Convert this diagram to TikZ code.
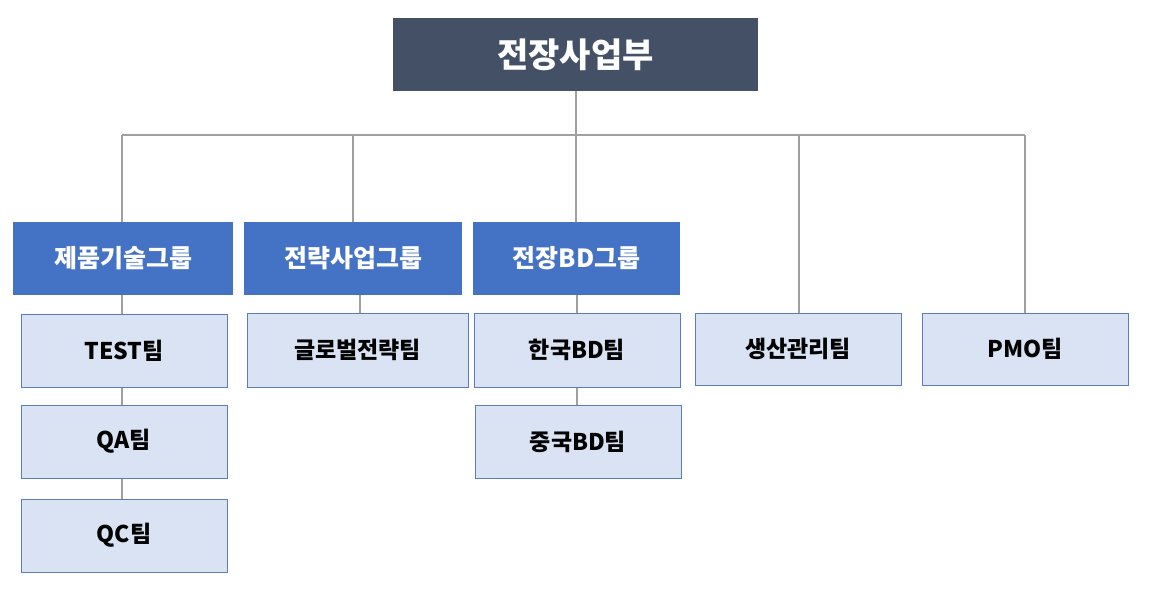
\documentclass[tikz,border=0pt]{standalone}
\usepackage{fontspec}
\setmainfont{Noto Sans CJK KR}
\begin{document}
\begin{tikzpicture}[x=0.5pt,y=-0.5pt,
 topbox/.style={fill=top,draw=none,text=white,font=\bfseries\fontsize{17}{20}\selectfont},
 grp/.style={fill=grp,draw=none,text=white,font=\bfseries\fontsize{12.5}{15}\selectfont},
 sub/.style={fill=sub,draw=subb,line width=0.5pt,text=black,font=\bfseries\fontsize{11.5}{14}\selectfont},
 ln/.style={draw=lnc,line width=0.6pt}]
\definecolor{top}{HTML}{435066}
\definecolor{grp}{HTML}{4472C4}
\definecolor{sub}{HTML}{DAE3F3}
\definecolor{subb}{HTML}{5B7DBA}
\definecolor{lnc}{HTML}{A0A0A0}
\useasboundingbox (0,0) rectangle (1154,590);
\newcommand{\bx}[6]{\draw[#1] (#3,#4) rectangle (#5,#6) node[pos=.5] (#2) {#2txt};}
\def\B#1#2#3#4#5#6#7{\path[#1] (#3,#4) rectangle (#5,#6); \node[#1,draw=none,fill=none] (#2) at ({(#3+#5)/2},{(#4+#6)/2}) {#7};}
% connectors
\coordinate (h1) at (122,135); \coordinate (h2) at (1025,135);
\draw[ln] (h1) -- (h2);
\draw[ln] (576,91) -- (576,222);
\draw[ln] (122,135) -- (122,222);
\draw[ln] (353,135) -- (353,222);
\draw[ln] (799,135) -- (799,313);
\draw[ln] (1025,135) -- (1025,313);
\draw[ln] (122,295) -- (122,499);
\draw[ln] (360,295) -- (360,313);
\draw[ln] (577,295) -- (577,405);
\B{topbox}{t}{393}{18}{758}{91}{전장사업부}
\B{grp}{g1}{13}{222}{233}{295}{제품기술그룹}
\B{grp}{g2}{244}{222}{462}{295}{전략사업그룹}
\B{grp}{g3}{473}{222}{680}{295}{전장BD그룹}
\B{sub}{s1}{21}{314}{227}{387}{TEST팀}
\B{sub}{s2}{21}{405}{227}{478}{QA팀}
\B{sub}{s3}{21}{499}{227}{572}{QC팀}
\B{sub}{s4}{247}{313}{468}{387}{글로벌전략팀}
\B{sub}{s5}{474}{313}{680}{387}{한국BD팀}
\B{sub}{s6}{475}{405}{681}{478}{중국BD팀}
\B{sub}{s7}{695}{313}{901}{385}{생산관리팀}
\B{sub}{s8}{922}{313}{1128}{385}{PMO팀}
\end{tikzpicture}
\end{document}
